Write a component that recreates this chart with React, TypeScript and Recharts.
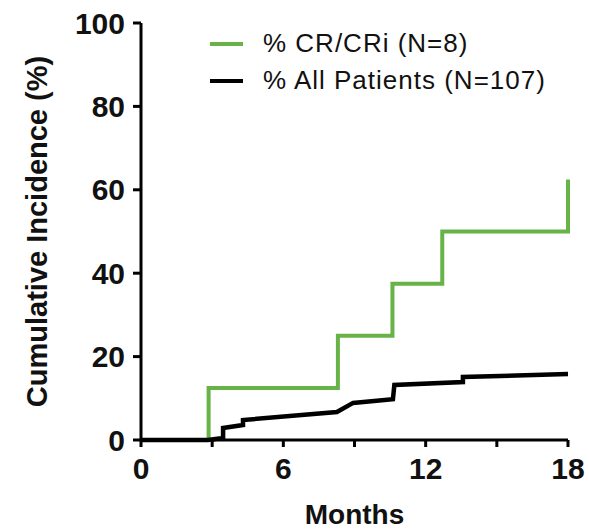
import { LineChart, Line, XAxis, YAxis, Label } from 'recharts';

// Cumulative incidence step data (months, %)
const crMonths = [0, 2.85, 8.3, 10.6, 12.7, 18];
const crValues = [0, 12.5, 25, 37.5, 50, 62.5];

const allMonths = [0, 2.82, 3.46, 3.46, 4.3, 4.3, 8.26, 8.94, 10.62, 10.68, 13.57, 13.57, 18];
const allValues = [0, 0, 0.5, 2.9, 3.6, 4.8, 6.7, 8.9, 9.8, 13.2, 13.9, 15.1, 15.8];

const xTicks = [0, 3, 6, 9, 12, 15, 18];
const yTicks = [0, 20, 40, 60, 80, 100];

const seriesNames = ['% CR/CRi (N=8)', '% All Patients (N=107)'];
const seriesColors = ['#67b347', '#000000'];

const crData = crMonths.map((m, i) => ({ x: m, y: crValues[i] }));
const allData = allMonths.map((m, i) => ({ x: m, y: allValues[i] }));

const FONT = 'Arial, "Liberation Sans", sans-serif';

// legend drawn as an overlay so it doesn't eat into the plot area
const LegendBox = () => (
  <div style={{ position: 'absolute', left: 210, top: 25, fontFamily: FONT }}>
    {seriesNames.map((name, i) => (
      <div key={name} style={{ display: 'flex', alignItems: 'center', height: 37 }}>
        <span style={{ display: 'inline-block', width: 33, height: 4, background: seriesColors[i], marginRight: 20 }} />
        <span style={{ fontSize: 26, letterSpacing: 1, color: '#111', whiteSpace: 'nowrap' }}>{name}</span>
      </div>
    ))}
  </div>
);

const App = () => {
  const tickStyle = { fontSize: 30, fontWeight: 'bold', fill: '#111', fontFamily: FONT };
  return (
    <div style={{ position: 'relative', width: 589, height: 531, background: '#fff' }}>
      <style>{'body { margin: 0; }'}</style>
      <LineChart width={589} height={531} margin={{ top: 23, right: 21, left: 0, bottom: 0 }}>
        <XAxis
          type="number"
          dataKey="x"
          domain={[0, 18]}
          ticks={xTicks}
          tickFormatter={(v) => (v % 6 === 0 ? String(v) : '')}
          height={91}
          stroke="#000"
          strokeWidth={3}
          tickSize={7}
          tickMargin={11}
          tick={tickStyle}
          allowDuplicatedCategory={false}
        >
          <Label
            value="Months"
            position="insideBottom"
            offset={7}
            style={{ fontSize: 28, fontWeight: 'bold', fill: '#111', fontFamily: FONT }}
          />
        </XAxis>
        <YAxis
          type="number"
          domain={[0, 100]}
          ticks={yTicks}
          width={141}
          stroke="#000"
          strokeWidth={3}
          tickSize={8}
          tickMargin={8}
          tick={tickStyle}
        >
          <Label
            value="Cumulative Incidence (%)"
            angle={-90}
            position="insideLeft"
            offset={37}
            style={{ fontSize: 29, fontWeight: 'bold', fill: '#111', fontFamily: FONT, textAnchor: 'middle' }}
          />
        </YAxis>
        <Line
          data={crData}
          dataKey="y"
          type="stepAfter"
          stroke={seriesColors[0]}
          strokeWidth={4}
          dot={false}
          activeDot={false}
          isAnimationActive={false}
        />
        <Line
          data={allData}
          dataKey="y"
          type="linear"
          stroke={seriesColors[1]}
          strokeWidth={4.5}
          dot={false}
          activeDot={false}
          isAnimationActive={false}
        />
      </LineChart>
      <LegendBox />
    </div>
  );
};

export default App;
